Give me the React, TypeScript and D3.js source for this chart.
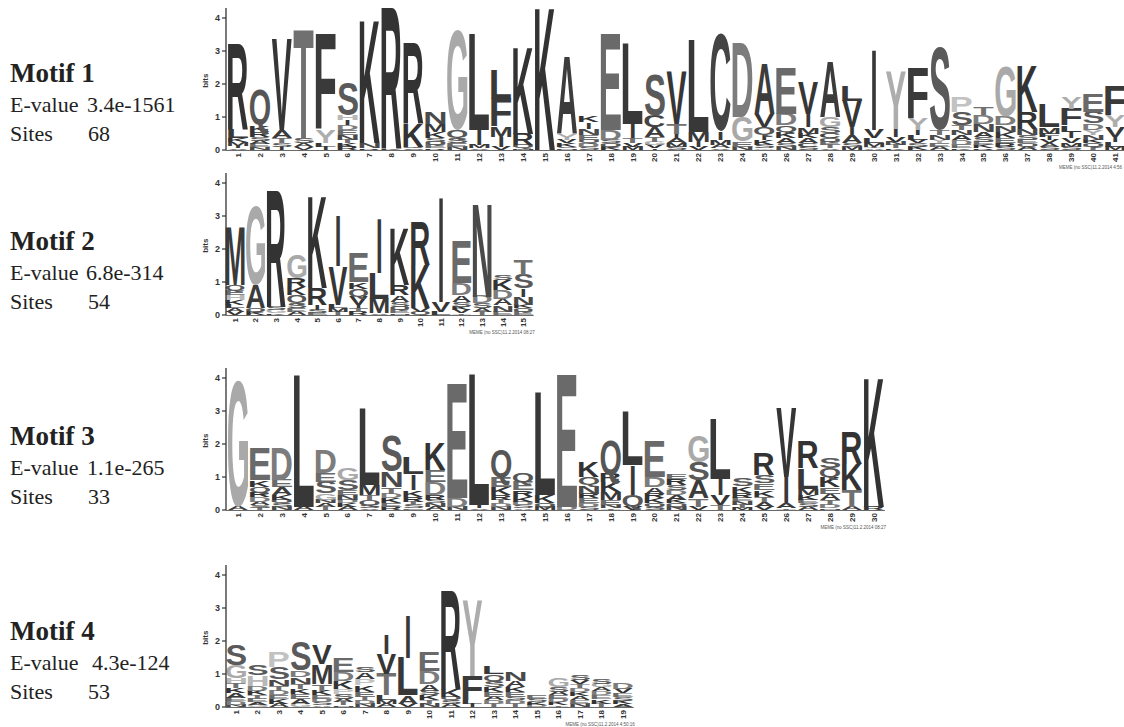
import React, { useMemo } from "react";
import * as d3 from "d3";

// ---- data (letter, bits), listed top of stack first ----
type Col = [string, number][];

const motif1: Col[] = [
  [["R", 2.6], ["L", 0.25], ["K", 0.12], ["M", 0.1], ["I", 0.08], ["V", 0.05]],
  [["Q", 1.05], ["K", 0.2], ["R", 0.15], ["S", 0.12], ["A", 0.1], ["E", 0.1], ["N", 0.08]],
  [["V", 2.75], ["A", 0.25], ["T", 0.15], ["S", 0.1], ["I", 0.1]],
  [["T", 3.3], ["S", 0.15], ["A", 0.12], ["V", 0.08]],
  [["F", 2.9], ["Y", 0.4], ["L", 0.1], ["I", 0.1]],
  [["S", 1.0], ["H", 0.15], ["I", 0.15], ["D", 0.15], ["E", 0.15], ["N", 0.15], ["T", 0.1], ["K", 0.1], ["R", 0.1]],
  [["K", 3.75], ["N", 0.15], ["R", 0.05]],
  [["R", 4.25], ["K", 0.05]],
  [["R", 2.45], ["K", 0.7], ["Q", 0.05], ["S", 0.05]],
  [["N", 0.35], ["M", 0.25], ["K", 0.2], ["S", 0.1], ["Q", 0.1], ["E", 0.1], ["R", 0.05]],
  [["G", 3.05], ["Q", 0.25], ["S", 0.15], ["E", 0.1], ["N", 0.1]],
  [["L", 2.9], ["I", 0.45], ["M", 0.1], ["V", 0.05]],
  [["L", 0.9], ["F", 0.85], ["M", 0.3], ["I", 0.3], ["V", 0.1]],
  [["K", 2.65], ["R", 0.35], ["Q", 0.1], ["M", 0.05]],
  [["K", 4.35]],
  [["A", 2.35], ["Y", 0.2], ["V", 0.1], ["K", 0.1], ["S", 0.05], ["N", 0.05]],
  [["K", 0.2], ["I", 0.2], ["N", 0.2], ["E", 0.15], ["Q", 0.1], ["D", 0.1], ["S", 0.1]],
  [["E", 2.9], ["D", 0.3], ["S", 0.1], ["Q", 0.1], ["K", 0.1]],
  [["L", 2.45], ["I", 0.45], ["T", 0.15], ["V", 0.1], ["M", 0.1]],
  [["S", 1.25], ["C", 0.35], ["A", 0.3], ["T", 0.15], ["G", 0.1], ["V", 0.1], ["I", 0.05]],
  [["V", 1.6], ["T", 0.3], ["I", 0.15], ["A", 0.15], ["M", 0.1], ["S", 0.1]],
  [["L", 2.8], ["M", 0.3], ["I", 0.15], ["V", 0.1]],
  [["C", 2.95], ["I", 0.25], ["M", 0.15], ["A", 0.1], ["V", 0.05]],
  [["D", 2.25], ["G", 0.75], ["E", 0.15], ["N", 0.1]],
  [["A", 1.55], ["V", 0.4], ["Q", 0.25], ["I", 0.15], ["K", 0.15], ["S", 0.1], ["G", 0.05]],
  [["E", 1.4], ["D", 0.35], ["Q", 0.2], ["K", 0.2], ["A", 0.15], ["S", 0.1], ["N", 0.1]],
  [["V", 0.95], ["I", 0.4], ["M", 0.2], ["K", 0.15], ["A", 0.15], ["C", 0.1], ["S", 0.1]],
  [["A", 1.7], ["G", 0.3], ["S", 0.2], ["C", 0.15], ["Q", 0.1], ["E", 0.1], ["T", 0.1], ["V", 0.05]],
  [["L", 0.45], ["V", 0.8], ["I", 0.25], ["A", 0.25], ["S", 0.1], ["M", 0.1]],
  [["I", 2.45], ["V", 0.25], ["L", 0.15], ["M", 0.1], ["T", 0.05], ["A", 0.05]],
  [["Y", 1.75], ["I", 0.25], ["V", 0.15], ["N", 0.1], ["T", 0.1], ["K", 0.05]],
  [["F", 1.55], ["Y", 0.35], ["I", 0.15], ["L", 0.15], ["V", 0.1], ["S", 0.1], ["K", 0.1]],
  [["S", 2.5], ["T", 0.15], ["N", 0.15], ["Y", 0.1], ["E", 0.1], ["A", 0.1]],
  [["P", 0.45], ["S", 0.4], ["T", 0.15], ["N", 0.15], ["A", 0.15], ["D", 0.15], ["E", 0.1], ["K", 0.05]],
  [["T", 0.25], ["D", 0.25], ["N", 0.25], ["A", 0.15], ["S", 0.15], ["E", 0.1], ["K", 0.1], ["R", 0.05]],
  [["G", 1.5], ["D", 0.25], ["N", 0.2], ["K", 0.2], ["E", 0.15], ["R", 0.1], ["S", 0.1]],
  [["K", 1.4], ["R", 0.5], ["N", 0.2], ["S", 0.15], ["E", 0.1], ["Q", 0.1], ["A", 0.1]],
  [["L", 0.7], ["M", 0.2], ["F", 0.1], ["I", 0.1], ["V", 0.1], ["A", 0.1], ["S", 0.1]],
  [["Y", 0.35], ["F", 0.5], ["L", 0.2], ["I", 0.2], ["V", 0.15], ["M", 0.1], ["S", 0.1]],
  [["E", 0.55], ["S", 0.35], ["D", 0.2], ["Y", 0.15], ["N", 0.15], ["K", 0.1], ["Q", 0.1], ["T", 0.1]],
  [["F", 0.9], ["Y", 0.35], ["V", 0.3], ["I", 0.15], ["L", 0.15], ["M", 0.1]],
];

const motif2: Col[] = [
  [["M", 1.77], ["Q", 0.16], ["E", 0.15], ["H", 0.15], ["K", 0.15], ["L", 0.1], ["A", 0.1], ["V", 0.1]],
  [["G", 2.38], ["A", 0.71], ["Q", 0.1], ["K", 0.1]],
  [["R", 3.55], ["S", 0.1], ["G", 0.1], ["K", 0.05]],
  [["G", 0.71], ["R", 0.26], ["K", 0.25], ["Q", 0.25], ["S", 0.15], ["E", 0.1], ["A", 0.1]],
  [["K", 2.79], ["R", 0.5], ["I", 0.15], ["S", 0.1], ["E", 0.06]],
  [["I", 1.53], ["V", 1.17], ["L", 0.1], ["M", 0.1], ["T", 0.1]],
  [["E", 0.87], ["K", 0.2], ["Q", 0.25], ["V", 0.25], ["I", 0.1], ["T", 0.1], ["R", 0.1]],
  [["I", 1.67], ["L", 0.77], ["M", 0.45], ["V", 0.05]],
  [["K", 1.72], ["R", 0.31], ["A", 0.2], ["S", 0.15], ["Q", 0.1], ["E", 0.1], ["N", 0.05]],
  [["R", 1.32], ["K", 1.32], ["V", 0.1], ["Q", 0.1]],
  [["I", 3.2], ["V", 0.3], ["L", 0.1]],
  [["E", 1.27], ["D", 0.36], ["A", 0.2], ["S", 0.15], ["K", 0.1], ["V", 0.1], ["T", 0.05]],
  [["N", 2.83], ["D", 0.21], ["S", 0.15], ["A", 0.1], ["T", 0.1]],
  [["S", 0.15], ["K", 0.3], ["D", 0.25], ["A", 0.2], ["N", 0.2], ["E", 0.1]],
  [["T", 0.45], ["S", 0.42], ["I", 0.25], ["N", 0.25], ["K", 0.1], ["Q", 0.1], ["E", 0.1]],
];

const motif3: Col[] = [
  [["G", 3.85], ["A", 0.1]],
  [["E", 0.96], ["K", 0.21], ["Q", 0.15], ["R", 0.15], ["D", 0.15], ["A", 0.1], ["S", 0.08], ["T", 0.07]],
  [["D", 0.96], ["E", 0.21], ["A", 0.25], ["K", 0.15], ["Q", 0.1], ["S", 0.1], ["N", 0.1]],
  [["L", 4.0], ["A", 0.1]],
  [["D", 0.71], ["E", 0.26], ["S", 0.35], ["G", 0.2], ["N", 0.1], ["A", 0.1], ["T", 0.1]],
  [["G", 0.37], ["S", 0.3], ["E", 0.15], ["N", 0.15], ["D", 0.1], ["K", 0.1], ["A", 0.1]],
  [["L", 2.33], ["M", 0.31], ["T", 0.15], ["Q", 0.15], ["S", 0.1], ["V", 0.05]],
  [["S", 1.06], ["N", 0.47], ["T", 0.2], ["D", 0.15], ["K", 0.15], ["E", 0.1], ["R", 0.1]],
  [["L", 0.49], ["I", 0.48], ["K", 0.2], ["R", 0.15], ["T", 0.1], ["S", 0.1], ["E", 0.05]],
  [["K", 0.83], ["E", 0.35], ["D", 0.4], ["R", 0.15], ["S", 0.1], ["N", 0.1], ["A", 0.1]],
  [["E", 3.45], ["D", 0.25], ["N", 0.1]],
  [["L", 3.95], ["I", 0.1], ["V", 0.05]],
  [["Q", 0.82], ["E", 0.3], ["K", 0.25], ["R", 0.15], ["T", 0.1], ["D", 0.1], ["N", 0.1]],
  [["Q", 0.26], ["E", 0.25], ["R", 0.2], ["K", 0.15], ["D", 0.1], ["S", 0.1], ["A", 0.05]],
  [["L", 3.1], ["K", 0.25], ["Q", 0.1], ["M", 0.1]],
  [["E", 4.0], ["D", 0.1]],
  [["K", 0.47], ["Q", 0.25], ["N", 0.25], ["R", 0.15], ["E", 0.15], ["D", 0.1], ["S", 0.1]],
  [["Q", 1.03], ["R", 0.25], ["K", 0.3], ["M", 0.25], ["E", 0.15], ["N", 0.1], ["T", 0.05]],
  [["L", 1.62], ["I", 0.92], ["Q", 0.35], ["V", 0.1]],
  [["E", 1.08], ["D", 0.3], ["A", 0.2], ["R", 0.15], ["K", 0.15], ["Q", 0.1], ["S", 0.1]],
  [["E", 0.16], ["R", 0.2], ["S", 0.15], ["D", 0.15], ["A", 0.15], ["K", 0.1], ["Q", 0.1], ["N", 0.1]],
  [["G", 0.78], ["S", 0.55], ["A", 0.55], ["T", 0.25], ["V", 0.1]],
  [["L", 1.83], ["I", 0.5], ["V", 0.3], ["T", 0.15]],
  [["S", 0.25], ["K", 0.2], ["R", 0.15], ["E", 0.1], ["N", 0.1], ["T", 0.1], ["M", 0.06]],
  [["R", 0.67], ["S", 0.25], ["E", 0.2], ["K", 0.2], ["T", 0.15], ["A", 0.15], ["V", 0.1]],
  [["V", 2.09], ["I", 0.8], ["A", 0.15], ["T", 0.05]],
  [["R", 0.81], ["L", 0.62], ["M", 0.2], ["K", 0.15], ["E", 0.1], ["S", 0.1], ["A", 0.1]],
  [["S", 0.3], ["Q", 0.27], ["K", 0.3], ["E", 0.2], ["A", 0.2], ["T", 0.15], ["D", 0.1], ["N", 0.05]],
  [["R", 0.98], ["K", 0.8], ["T", 0.5], ["A", 0.1]],
  [["K", 3.95], ["R", 0.1]],
];

const motif4: Col[] = [
  [["S", 0.65], ["G", 0.4], ["H", 0.15], ["T", 0.15], ["K", 0.15], ["A", 0.15], ["E", 0.1], ["D", 0.1], ["N", 0.07]],
  [["S", 0.31], ["H", 0.31], ["D", 0.15], ["K", 0.15], ["T", 0.1], ["E", 0.1], ["A", 0.08], ["G", 0.07]],
  [["P", 0.47], ["S", 0.35], ["N", 0.2], ["T", 0.15], ["D", 0.15], ["E", 0.1], ["K", 0.15], ["A", 0.1]],
  [["S", 0.87], ["D", 0.2], ["N", 0.2], ["T", 0.15], ["K", 0.15], ["E", 0.15], ["A", 0.15], ["G", 0.1]],
  [["V", 0.57], ["M", 0.6], ["T", 0.2], ["K", 0.15], ["E", 0.1], ["D", 0.1], ["S", 0.1], ["A", 0.05]],
  [["E", 0.42], ["D", 0.25], ["K", 0.25], ["P", 0.15], ["S", 0.15], ["A", 0.1], ["T", 0.1], ["N", 0.05]],
  [["S", 0.17], ["A", 0.2], ["P", 0.2], ["K", 0.2], ["E", 0.15], ["T", 0.1], ["D", 0.1], ["N", 0.1]],
  [["I", 0.58], ["V", 0.6], ["T", 0.65], ["L", 0.15], ["M", 0.1], ["A", 0.1]],
  [["I", 1.28], ["L", 1.15], ["A", 0.25], ["V", 0.1]],
  [["E", 0.57], ["D", 0.4], ["A", 0.2], ["S", 0.15], ["K", 0.15], ["T", 0.1], ["N", 0.1]],
  [["R", 2.99], ["K", 0.25], ["Q", 0.1], ["S", 0.1], ["A", 0.1]],
  [["Y", 2.29], ["F", 0.75], ["L", 0.1], ["I", 0.1]],
  [["L", 0.22], ["Q", 0.2], ["S", 0.2], ["K", 0.15], ["E", 0.15], ["A", 0.1], ["D", 0.1], ["T", 0.1]],
  [["N", 0.26], ["A", 0.2], ["K", 0.15], ["E", 0.15], ["S", 0.1], ["D", 0.1], ["T", 0.1]],
  [["E", 0.1], ["S", 0.1], ["K", 0.08], ["D", 0.07]],
  [["G", 0.26], ["S", 0.15], ["A", 0.1], ["E", 0.1], ["D", 0.1], ["K", 0.1], ["T", 0.05]],
  [["S", 0.15], ["V", 0.12], ["T", 0.12], ["D", 0.12], ["K", 0.12], ["A", 0.12], ["E", 0.11], ["N", 0.1]],
  [["S", 0.15], ["G", 0.12], ["A", 0.12], ["D", 0.12], ["E", 0.12], ["K", 0.13], ["T", 0.1]],
  [["D", 0.2], ["V", 0.15], ["E", 0.12], ["S", 0.1], ["K", 0.1], ["A", 0.09]],
];

const motifTitles = ["Motif 1", "Motif 2", "Motif 3", "Motif 4"];
const eValues = ["3.4e-1561", "6.8e-314", "1.1e-265", "4.3e-124"];
const siteCounts = ["68", "54", "33", "53"];
const yTicks = [0, 1, 2, 3, 4];
const memeStamps = [
  "MEME (no SSC)11.2.2014 4:56",
  "MEME (no SSC)11.2.2014 08:27",
  "MEME (no SSC)11.2.2014 08:27",
  "MEME (no SSC)11.2.2014 4:50:16",
];

// ---- layout ----
const logos = [
  { cols: motif1, y0: 150, c1: 238, step: 21.93, textY: 82, evX: 87 },
  { cols: motif2, y0: 315, c1: 235, step: 20.6, textY: 250, evX: 86 },
  { cols: motif3, y0: 510, c1: 238, step: 21.93, textY: 445, evX: 87 },
  { cols: motif4, y0: 707, c1: 236, step: 21.5, textY: 640, evX: 92 },
];
const AXIS_X = 226;
const BIT_PX = 33;

const shade: Record<string, string> = {
  R: "#333", K: "#333", V: "#363636", L: "#383838", I: "#383838", F: "#3a3a3a",
  A: "#3c3c3c", C: "#444", M: "#3a3a3a", W: "#3a3a3a", T: "#707070", S: "#5a5a5a",
  Q: "#565656", N: "#4a4a4a", E: "#6a6a6a", D: "#7c7c7c", G: "#a9a9a9",
  Y: "#adadad", P: "#c2c2c2", H: "#b8b8b8",
};

const LOGO_FONT = '"Liberation Sans", Arial, sans-serif';
const SERIF = '"Liberation Serif", "Times New Roman", serif';

function measureGlyphs() {
  const canvas = document.createElement("canvas");
  const ctx = canvas.getContext("2d")!;
  ctx.font = `bold 100px ${LOGO_FONT}`;
  const out: Record<string, { l: number; r: number; a: number; d: number }> = {};
  for (const ch of "ACDEFGHIKLMNPQRSTVWY") {
    const m = ctx.measureText(ch);
    out[ch] = {
      l: m.actualBoundingBoxLeft,
      r: m.actualBoundingBoxRight,
      a: m.actualBoundingBoxAscent,
      d: ch === "Q" ? 0 : m.actualBoundingBoxDescent,
    };
  }
  return out;
}

const Logo = ({ cfg, glyphs, stamp }) => {
  const n = cfg.cols.length;
  const positions = d3.range(1, n + 1).map(String);
  const x = d3
    .scaleBand()
    .domain(positions)
    .range([cfg.c1 - cfg.step / 2, cfg.c1 - cfg.step / 2 + n * cfg.step])
    .paddingInner(0.08)
    .paddingOuter(0.04);
  const y = d3.scaleLinear().domain([0, 4]).range([cfg.y0, cfg.y0 - 4 * BIT_PX]);
  const w = x.bandwidth();

  const letters = [];
  cfg.cols.forEach((col, i) => {
    let acc = 0;
    const bx = x(positions[i]);
    for (let k = col.length - 1; k >= 0; k--) {
      const [ch, b] = col[k];
      const yb = y(acc);
      const yt = y(acc + b);
      acc += b;
      const g = glyphs[ch];
      // the I is drawn as a narrow bar, as in MEME logos
      const lw = ch === "I" ? w * 0.2 : w;
      const x0 = bx + (w - lw) / 2;
      const sx = lw / (g.l + g.r);
      const sy = (yb - yt) / (g.a + g.d);
      letters.push(
        <text
          key={`${i}-${k}`}
          transform={`translate(${x0},${yt}) scale(${sx},${sy}) translate(${g.l},${g.a})`}
          fontFamily={LOGO_FONT}
          fontWeight="bold"
          fontSize={100}
          fill={shade[ch]}
        >
          {ch}
        </text>
      );
    }
  });

  const r1 = x.range()[1];
  return (
    <g>
      {letters}
      <line x1={AXIS_X} x2={AXIS_X} y1={cfg.y0} y2={y(4.3)} stroke="#333" strokeWidth={1.3} />
      <line x1={AXIS_X} x2={r1} y1={cfg.y0 + 0.5} y2={cfg.y0 + 0.5} stroke="#444" strokeWidth={0.8} />
      {yTicks.map((t) => (
        <g key={t}>
          <line x1={AXIS_X - 4} x2={AXIS_X} y1={y(t)} y2={y(t)} stroke="#333" strokeWidth={1.2} />
          <text x={AXIS_X - 6} y={y(t)} dy="0.35em" textAnchor="end" fontFamily={LOGO_FONT}
            fontWeight="bold" fontSize={9} fill="#333">{t}</text>
        </g>
      ))}
      <text transform={`translate(${AXIS_X - 18},${y(2.1)}) rotate(-90)`} textAnchor="middle"
        fontFamily={LOGO_FONT} fontWeight="bold" fontSize={8} fill="#333">bits</text>
      {positions.map((p) => (
        <text key={p}
          transform={`translate(${x(p) + w / 2},${cfg.y0 + 3}) rotate(-90)`}
          textAnchor="end" dy="0.35em" fontFamily={LOGO_FONT} fontWeight="bold" fontSize={8} fill="#333">
          {p}
        </text>
      ))}
      <text x={Math.min(r1 + 1, 1122)} y={cfg.y0 + 19} textAnchor="end" fontFamily={LOGO_FONT}
        fontSize={4.5} fill="#555">
        {stamp}
      </text>
    </g>
  );
};

export default function App() {
  const glyphs = useMemo(measureGlyphs, []);
  return (
    <svg width={1124} height={727} style={{ position: "absolute", left: 0, top: 0, background: "#fff" }}>
      {logos.map((cfg, i) => (
        <g key={i}>
          <text x={10} y={cfg.textY} fontFamily={SERIF} fontWeight="bold" fontSize={27} fill="#222">
            {motifTitles[i]}
          </text>
          <text x={10} y={cfg.textY + 30} fontFamily={SERIF} fontSize={22} fill="#222">E-value</text>
          <text x={cfg.evX} y={cfg.textY + 30} fontFamily={SERIF} fontSize={22} fill="#222">{eValues[i]}</text>
          <text x={10} y={cfg.textY + 59} fontFamily={SERIF} fontSize={22} fill="#222">Sites</text>
          <text x={88} y={cfg.textY + 59} fontFamily={SERIF} fontSize={22} fill="#222">{siteCounts[i]}</text>
          <Logo cfg={cfg} glyphs={glyphs} stamp={memeStamps[i]} />
        </g>
      ))}
    </svg>
  );
}
